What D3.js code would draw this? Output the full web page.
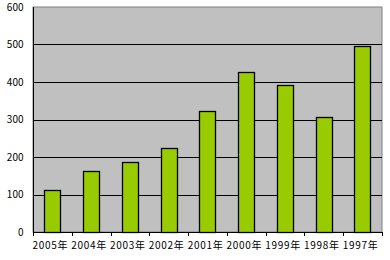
<!DOCTYPE html>
<html>
<head>
<meta charset="utf-8">
<script src="https://cdn.jsdelivr.net/npm/d3@7"></script>
<style>
  body { margin: 0; background: #fff; }
  svg text { font-family: "Noto Sans CJK JP", "Noto Sans", sans-serif; font-size: 10px; fill: #000; }
</style>
</head>
<body>
<svg id="chart" width="390" height="260"></svg>
<script>
// data
var years = ["2005年", "2004年", "2003年", "2002年", "2001年", "2000年", "1999年", "1998年", "1997年"];
var counts = [111, 164, 186, 223, 322, 426, 391, 306, 495];
var yTicks = [0, 100, 200, 300, 400, 500, 600];

(function(){
    var svg = d3.select('#chart');
    var left = 33, right = 382, top = 7, bottom = 232;

    var x = d3.scaleBand()
        .domain(years)
        .range([left, right])
        .paddingInner(0.58)
        .paddingOuter(0.29);
    var y = d3.scaleLinear().domain([0, 600]).range([bottom, top]);

    // plot background
    svg.append('rect')
        .attr('x', left).attr('y', top)
        .attr('width', right - left).attr('height', bottom - top)
        .attr('fill', '#c0c0c0')
        .attr('stroke', '#808080')
        .attr('stroke-width', 1);

    // gridlines
    svg.selectAll('line.grid')
        .data(yTicks.filter(function(d){ return d > 0 && d < 600; }))
        .enter().append('line')
        .attr('class', 'grid')
        .attr('x1', left).attr('x2', right)
        .attr('y1', function(d){ return Math.round(y(d)) + 0.5; })
        .attr('y2', function(d){ return Math.round(y(d)) + 0.5; })
        .attr('stroke', '#000');

    // bars
    svg.selectAll('rect.bar')
        .data(counts)
        .enter().append('rect')
        .attr('class', 'bar')
        .attr('x', function(d, i){ return Math.round(x(years[i])) + 0.5; })
        .attr('y', function(d){ return Math.round(y(d)) + 0.5; })
        .attr('width', Math.round(x.bandwidth()))
        .attr('height', function(d){ return bottom - Math.round(y(d)); })
        .attr('fill', '#99cc00')
        .attr('stroke', '#000')
        .attr('stroke-width', 1.3);

    // y axis
    var yAxis = svg.append('g')
        .attr('transform', 'translate(' + (left + 0.5) + ',0)')
        .call(d3.axisLeft(y).tickValues(yTicks).tickSize(0).tickPadding(10));
    yAxis.select('.domain').attr('stroke', '#000').attr('d', 'M0,' + top + 'V' + bottom);
    yAxis.selectAll('text').attr('font-size', 10).attr('font-family', null);

    // x axis with ticks between categories
    var step = (right - left) / years.length;
    var xAxis = svg.append('g');
    xAxis.append('line')
        .attr('x1', left).attr('x2', right)
        .attr('y1', bottom + 0.5).attr('y2', bottom + 0.5)
        .attr('stroke', '#000');
    xAxis.selectAll('line.tick')
        .data(d3.range(years.length + 1))
        .enter().append('line')
        .attr('class', 'tick')
        .attr('x1', function(i){ return Math.round(left + i * step) + 0.5; })
        .attr('x2', function(i){ return Math.round(left + i * step) + 0.5; })
        .attr('y1', bottom).attr('y2', bottom + 4)
        .attr('stroke', '#000');
    xAxis.selectAll('text')
        .data(years)
        .enter().append('text')
        .attr('x', function(d){ return x(d) + x.bandwidth() / 2 - 2; })
        .attr('y', 249)
        .attr('text-anchor', 'middle')
        .attr('font-size', 9.5)
        .attr('letter-spacing', 0.7)
        .text(function(d){ return d; });
})();
</script>
</body>
</html>
